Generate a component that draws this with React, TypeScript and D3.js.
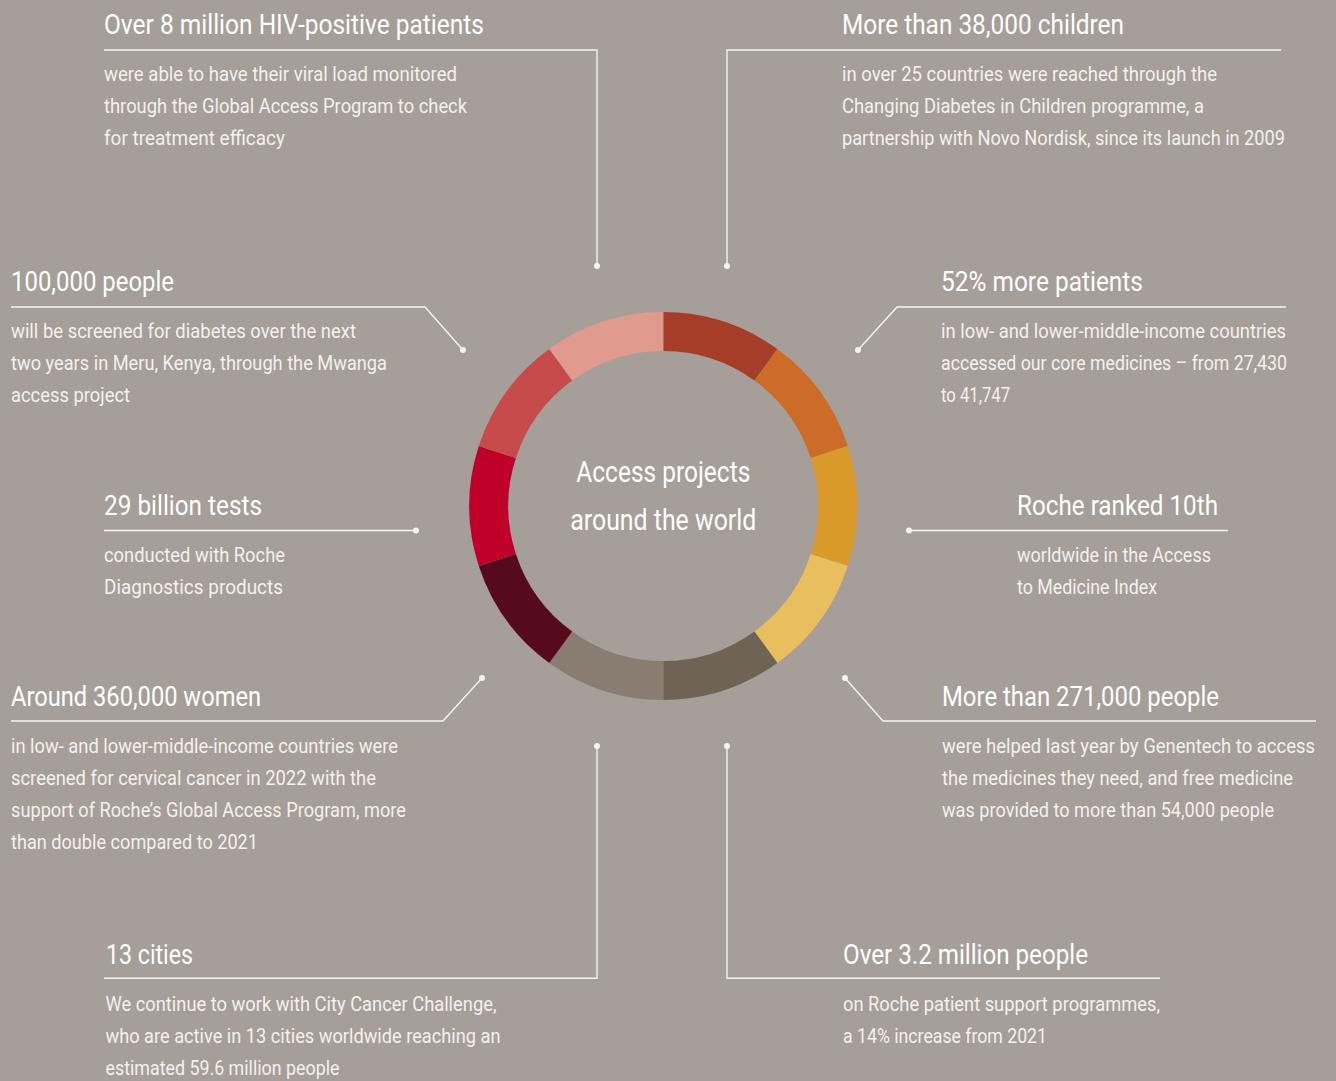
import React from "react";
import * as d3 from "d3";

// ---------- data ----------
const segmentNames = [
  "HIV viral load", "Changing Diabetes in Children", "Core medicines", "Access to Medicine Index",
  "Genentech access", "Patient support", "City Cancer Challenge", "Cervical cancer screening",
  "Diagnostics tests", "Mwanga diabetes screening",
];
const segmentValues = [1, 1, 1, 1, 1, 1, 1, 1, 1, 1];
const segmentColors = [
  "#A63D28", "#CC6C28", "#DA9A2A", "#E8BE5E", "#6D6455",
  "#877D71", "#560A1E", "#BF0029", "#C74B4A", "#E09A8E",
];
const centerLines = ["Access projects", "around the world"];

const titles = [
  "Over 8 million HIV-positive patients",
  "More than 38,000 children",
  "100,000 people",
  "52% more patients",
  "29 billion tests",
  "Roche ranked 10th",
  "Around 360,000 women",
  "More than 271,000 people",
  "13 cities",
  "Over 3.2 million people",
];
const bodies = [
  ["were able to have their viral load monitored", "through the Global Access Program to check", "for treatment efficacy"],
  ["in over 25 countries were reached through the", "Changing Diabetes in Children programme, a", "partnership with Novo Nordisk, since its launch in 2009"],
  ["will be screened for diabetes over the next", "two years in Meru, Kenya, through the Mwanga", "access project"],
  ["in low- and lower-middle-income countries", "accessed our core medicines \u2013 from 27,430", "to 41,747"],
  ["conducted with Roche", "Diagnostics products"],
  ["worldwide in the Access", "to Medicine Index"],
  ["in low- and lower-middle-income countries were", "screened for cervical cancer in 2022 with the", "support of Roche\u2019s Global Access Program, more", "than double compared to 2021"],
  ["were helped last year by Genentech to access", "the medicines they need, and free medicine", "was provided to more than 54,000 people"],
  ["We continue to work with City Cancer Challenge,", "who are active in 13 cities worldwide reaching an", "estimated 59.6 million people"],
  ["on Roche patient support programmes,", "a 14% increase from 2021"],
];

// ---------- layout (positions / sizes) ----------
type Block = {
  tx: number; ty: number; tw: number; bx: number; bw: number[];
  rule: [number, number][]; dot: [number, number];
};
const layout: Block[] = [
  { tx: 104, ty: 34, tw: 380, bx: 104, bw: [353, 363, 181], rule: [[597, 266], [597, 50], [104, 50]], dot: [597, 266] },
  { tx: 842, ty: 34, tw: 282, bx: 842, bw: [375, 362, 443], rule: [[727, 266], [727, 50], [1281, 50]], dot: [727, 266] },
  { tx: 11, ty: 290.7, tw: 163, bx: 11, bw: [345, 376, 119], rule: [[463, 350], [425, 307], [11, 307]], dot: [463, 350] },
  { tx: 941, ty: 290.7, tw: 202, bx: 941, bw: [345, 346, 69], rule: [[858, 350], [897, 307], [1286, 307]], dot: [858, 350] },
  { tx: 104, ty: 514.5, tw: 158, bx: 104, bw: [181, 179], rule: [[416, 530.5], [104, 530.5]], dot: [416, 530.5] },
  { tx: 1017, ty: 514.5, tw: 201, bx: 1017, bw: [194, 140], rule: [[909, 530.5], [1228, 530.5]], dot: [909, 530.5] },
  { tx: 11, ty: 705.7, tw: 250, bx: 11, bw: [387, 365, 395, 247], rule: [[482, 678], [443, 721], [11, 721]], dot: [482, 678] },
  { tx: 942, ty: 705.7, tw: 277, bx: 942, bw: [373, 351, 332], rule: [[845, 678], [883, 721], [1316, 721]], dot: [845, 678] },
  { tx: 106, ty: 963.5, tw: 87, bx: 105.5, bw: [391, 395, 234], rule: [[597, 746], [597, 978.3], [104, 978.3]], dot: [597, 746] },
  { tx: 843, ty: 963.5, tw: 245, bx: 843, bw: [317, 204], rule: [[727, 746], [727, 978.3], [1160, 978.3]], dot: [727, 746] },
];

const W = 1336;
const H = 1081;
const CX = 663.3;
const CY = 506;
const R_OUT = 194;
const R_IN = 155;
const BG = "#A69E98";
const LINE = "#F6F3F0";
const FONT = "Roboto, 'Noto Sans', sans-serif";

export default function App() {
  const pie = d3.pie<number>().sort(null).startAngle(0).endAngle(2 * Math.PI);
  const arcs = pie(segmentValues);
  const arc = d3.arc<d3.PieArcDatum<number>>().innerRadius(R_IN).outerRadius(R_OUT);
  const lineGen = d3.line();

  return (
    <svg
      width={W}
      height={H}
      style={{ position: "absolute", left: 0, top: 0, display: "block" }}
      fontFamily={FONT}
    >
      <rect x={0} y={0} width={W} height={H} fill={BG} />
      <g transform={`translate(${CX},${CY})`}>
        {arcs.map((a, i) => (
          <path key={segmentNames[i]} d={arc(a) || ""} fill={segmentColors[i]} />
        ))}
      </g>
      <text x={CX} y={481.7} textAnchor="middle" fill="#FFFFFF" fontSize={29}
        textLength={174} lengthAdjust="spacingAndGlyphs">{centerLines[0]}</text>
      <text x={CX} y={530} textAnchor="middle" fill="#FFFFFF" fontSize={29}
        textLength={186} lengthAdjust="spacingAndGlyphs">{centerLines[1]}</text>

      {titles.map((t, i) => {
        const L = layout[i];
        return (
          <g key={t}>
            <path d={lineGen(L.rule) || ""} fill="none" stroke={LINE} strokeWidth={1.4} />
            <circle cx={L.dot[0]} cy={L.dot[1]} r={3} fill={LINE} />
            <text x={L.tx} y={L.ty} fill="#FFFFFF" fontSize={28}
              textLength={L.tw} lengthAdjust="spacingAndGlyphs">{t}</text>
            {bodies[i].map((line, j) => (
              <text key={j} x={L.bx} y={L.ty + 47.3 + j * 32} fill="#F4F1EE" fontSize={20}
                textLength={L.bw[j]} lengthAdjust="spacingAndGlyphs">{line}</text>
            ))}
          </g>
        );
      })}
    </svg>
  );
}
